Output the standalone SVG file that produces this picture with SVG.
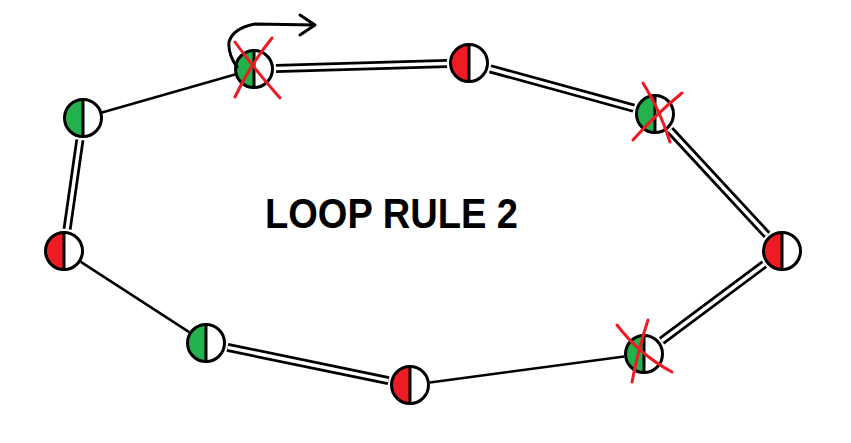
<svg xmlns="http://www.w3.org/2000/svg" xmlns:xlink="http://www.w3.org/1999/xlink" width="851" height="443" viewBox="0 0 851 443">
<style>
.single{stroke:#000;stroke-width:2.5;fill:none;stroke-linecap:butt}
.dbl-out{stroke:#000;stroke-width:9;fill:none}
.dbl-in{stroke:#fff;stroke-width:3.5;fill:none}
.ring{fill:none;stroke:#000;stroke-width:3}
.div{stroke:#000;stroke-width:3}
.g{fill:#22b14c}
.r{fill:#ed1c24}
.x{stroke:#ed1c24;stroke-width:3;fill:none;stroke-linecap:round}
.arrow{stroke:#000;stroke-width:3;fill:none;stroke-linecap:round;stroke-linejoin:round}
.title{font-family:"Liberation Sans",Arial,sans-serif;font-weight:bold;font-size:42px;fill:#000}
</style>
<defs>
<g id="gnode"><circle r="18.5" fill="#fff"/><path class="g" d="M0,-18.5 A18.5,18.5 0 0 0 0,18.5 Z"/><line class="div" x1="0" y1="-18.5" x2="0" y2="18.5"/><circle class="ring" r="18.5"/></g>
<g id="rnode"><circle r="18.5" fill="#fff"/><path class="r" d="M0,-18.5 A18.5,18.5 0 0 0 0,18.5 Z"/><line class="div" x1="0" y1="-18.5" x2="0" y2="18.5"/><circle class="ring" r="18.5"/></g>
</defs>
<rect width="851" height="443" fill="#fff"/>
<g id="connectors">
<line class="single" x1="102" y1="112.5" x2="235" y2="74.5"/>
<g><line class="dbl-out" x1="276" y1="68.4" x2="447" y2="63.6"/><line class="dbl-in" x1="276" y1="68.4" x2="447" y2="63.6"/></g>
<g><line class="dbl-out" x1="490.2" y1="68.8" x2="633.8" y2="108.2"/><line class="dbl-in" x1="490.2" y1="68.8" x2="633.8" y2="108.2"/></g>
<g><line class="dbl-out" x1="670" y1="130.1" x2="767" y2="234.9"/><line class="dbl-in" x1="670" y1="130.1" x2="767" y2="234.9"/></g>
<g><line class="dbl-out" x1="764.4" y1="264.2" x2="661.6" y2="340.8"/><line class="dbl-in" x1="764.4" y1="264.2" x2="661.6" y2="340.8"/></g>
<line class="single" x1="624.2" y1="356.6" x2="429.8" y2="382.4"/>
<g><line class="dbl-out" x1="388.5" y1="380.6" x2="227.5" y2="347.4"/><line class="dbl-in" x1="388.5" y1="380.6" x2="227.5" y2="347.4"/></g>
<line class="single" x1="189.2" y1="332.1" x2="80.8" y2="261.9"/>
<g><line class="dbl-out" x1="67.1" y1="229.2" x2="79.9" y2="139.8"/><line class="dbl-in" x1="67.1" y1="229.2" x2="79.9" y2="139.8"/></g>
</g>
<g id="n1"><use xlink:href="#gnode" href="#gnode" x="254" y="69"/>
<path class="x" d="M235,42 Q255,70 280,98"/><path class="x" d="M272,38 Q250,65 235,97"/>
<path class="arrow" d="M237,67 Q228,55 229,42 Q233,28 255,24 L315,25 M300,15 L315,25 L300,35"/></g>
<g id="n2"><use xlink:href="#rnode" href="#rnode" x="469" y="63"/></g>
<g id="n3"><use xlink:href="#gnode" href="#gnode" x="655" y="114"/>
<path class="x" d="M643,83 Q660,110 670,142"/><path class="x" d="M682,93 Q655,115 633,140"/></g>
<g id="n4"><use xlink:href="#rnode" href="#rnode" x="782" y="251"/></g>
<g id="n5"><use xlink:href="#gnode" href="#gnode" x="644" y="354"/>
<path class="x" d="M617,325 Q640,355 672,372"/><path class="x" d="M648,320 Q638,350 632,382"/></g>
<g id="n6"><use xlink:href="#rnode" href="#rnode" x="410" y="385"/></g>
<g id="n7"><use xlink:href="#gnode" href="#gnode" x="206" y="343"/></g>
<g id="n8"><use xlink:href="#rnode" href="#rnode" x="64" y="251"/></g>
<g id="n9"><use xlink:href="#gnode" href="#gnode" x="83" y="118"/></g>
<text class="title" x="265" y="228" textLength="253" lengthAdjust="spacingAndGlyphs">LOOP RULE 2</text>
</svg>
